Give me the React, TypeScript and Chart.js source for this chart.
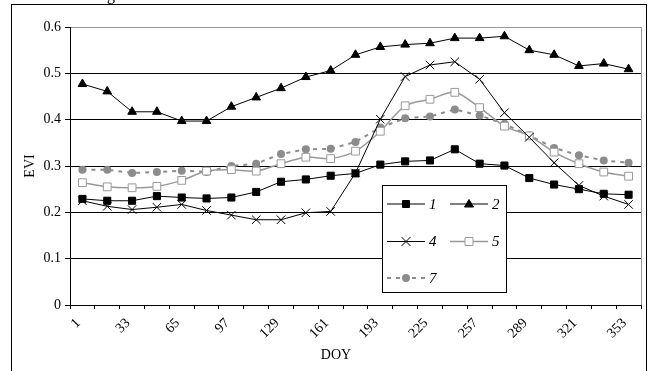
import React, { useEffect, useRef } from "react";
import { Chart, registerables } from "chart.js";

Chart.register(...registerables);

const doyLabels = ["1", "17", "33", "49", "65", "81", "97", "113", "129", "145", "161", "177", "193", "209", "225", "241", "257", "273", "289", "305", "321", "337", "353"];

const series1 = [0.229, 0.225, 0.225, 0.235, 0.232, 0.23, 0.232, 0.244, 0.266, 0.271, 0.279, 0.284, 0.303, 0.31, 0.312, 0.336, 0.305, 0.301, 0.274, 0.26, 0.25, 0.24, 0.238];
const series2 = [0.477, 0.461, 0.417, 0.417, 0.397, 0.397, 0.428, 0.448, 0.468, 0.492, 0.506, 0.54, 0.557, 0.562, 0.565, 0.576, 0.576, 0.58, 0.55, 0.54, 0.516, 0.521, 0.509];
const series4 = [0.225, 0.213, 0.206, 0.211, 0.217, 0.204, 0.194, 0.184, 0.184, 0.199, 0.202, 0.285, 0.401, 0.493, 0.518, 0.525, 0.487, 0.415, 0.362, 0.307, 0.258, 0.235, 0.217];
const series5 = [0.264, 0.255, 0.253, 0.256, 0.269, 0.289, 0.292, 0.289, 0.305, 0.319, 0.316, 0.332, 0.375, 0.43, 0.444, 0.459, 0.426, 0.386, 0.365, 0.33, 0.305, 0.287, 0.278];
const series7 = [0.292, 0.292, 0.285, 0.287, 0.29, 0.287, 0.3, 0.305, 0.326, 0.336, 0.337, 0.352, 0.383, 0.403, 0.407, 0.422, 0.409, 0.391, 0.366, 0.339, 0.323, 0.312, 0.307];

const seriesNames = ["1", "2", "4", "5", "7"];
const yTicks = [0, 0.1, 0.2, 0.3, 0.4, 0.5, 0.6];

const FONT = "'Liberation Serif', 'Times New Roman', serif";
const GRAY_LINE = "#999999";
const GRAY_DOT = "#8c8c8c";

function drawMarker(ctx: CanvasRenderingContext2D, style: string, x: number, y: number, fill: string, stroke: string) {
  ctx.save();
  ctx.fillStyle = fill;
  ctx.strokeStyle = stroke;
  ctx.lineWidth = 1;
  ctx.setLineDash([]);
  ctx.beginPath();
  if (style === "rect") {
    ctx.rect(x - 3.5, y - 3.5, 7, 7);
    ctx.fill();
    ctx.stroke();
  } else if (style === "openrect") {
    ctx.rect(x - 4, y - 4, 8, 8);
    ctx.fill();
    ctx.stroke();
  } else if (style === "triangle") {
    ctx.moveTo(x, y - 4.5);
    ctx.lineTo(x + 4.5, y + 3);
    ctx.lineTo(x - 4.5, y + 3);
    ctx.closePath();
    ctx.fill();
    ctx.stroke();
  } else if (style === "cross") {
    ctx.moveTo(x - 4.5, y - 4.5);
    ctx.lineTo(x + 4.5, y + 4.5);
    ctx.moveTo(x + 4.5, y - 4.5);
    ctx.lineTo(x - 4.5, y + 4.5);
    ctx.stroke();
  } else if (style === "circle") {
    ctx.arc(x, y, 4, 0, Math.PI * 2);
    ctx.fill();
  }
  ctx.restore();
}

const decorPlugin = {
  id: "decor",
  beforeDraw(chart: any) {
    const ctx = chart.ctx as CanvasRenderingContext2D;
    ctx.save();
    ctx.fillStyle = "#fff";
    ctx.fillRect(0, 0, chart.width, chart.height);
    ctx.restore();
  },
  afterDraw(chart: any) {
    const ctx = chart.ctx as CanvasRenderingContext2D;
    const ca = chart.chartArea;
    ctx.save();
    ctx.strokeStyle = "#000";
    ctx.lineWidth = 1;
    ctx.strokeRect(11.5, 4.5, 635, 400);
    ctx.strokeStyle = GRAY_LINE;
    ctx.beginPath();
    ctx.moveTo(Math.round(ca.right) + 0.5, Math.round(ca.top));
    ctx.lineTo(Math.round(ca.right) + 0.5, Math.round(ca.bottom));
    ctx.stroke();
    ctx.fillStyle = "#000";
    ctx.font = `16px ${FONT}`;
    ctx.textBaseline = "alphabetic";
    ctx.textAlign = "left";
    ctx.fillText("g", 107, 0);
    ctx.font = `14px ${FONT}`;
    ctx.textAlign = "center";
    ctx.textBaseline = "middle";
    ctx.fillText("DOY", 336, 355);
    ctx.translate(30, 166);
    ctx.rotate(-Math.PI / 2);
    ctx.fillText("EVI", 0, 0);
    ctx.restore();

    const bx = 382.5, by = 185.5, bw = 124, bh = 107;
    ctx.save();
    ctx.fillStyle = "#fff";
    ctx.fillRect(bx, by, bw, bh);
    ctx.strokeStyle = "#000";
    ctx.lineWidth = 1;
    ctx.strokeRect(bx, by, bw, bh);
    const entries = [
      { col: 0, row: 0, marker: "rect", color: "#000", fill: "#000", width: 1, dash: [] as number[] },
      { col: 1, row: 0, marker: "triangle", color: "#000", fill: "#000", width: 1, dash: [] as number[] },
      { col: 0, row: 1, marker: "cross", color: "#000", fill: "#000", width: 1, dash: [] as number[] },
      { col: 1, row: 1, marker: "openrect", color: GRAY_LINE, fill: "#fff", width: 1.5, dash: [] as number[] },
      { col: 0, row: 2, marker: "circle", color: GRAY_DOT, fill: GRAY_DOT, width: 2, dash: [4, 5] },
    ];
    const colX = [387, 450];
    const rowY = [204, 241.5, 278];
    entries.forEach((e, i) => {
      const x0 = colX[e.col];
      const y = rowY[e.row];
      ctx.save();
      ctx.strokeStyle = e.color;
      ctx.lineWidth = e.width;
      ctx.beginPath();
      if (e.dash.length) {
        ctx.moveTo(x0, y);
        ctx.lineTo(x0 + 4, y);
        ctx.moveTo(x0 + 9, y);
        ctx.lineTo(x0 + 13, y);
        ctx.moveTo(x0 + 25, y);
        ctx.lineTo(x0 + 29, y);
        ctx.moveTo(x0 + 34, y);
        ctx.lineTo(x0 + 38, y);
      } else {
        ctx.moveTo(x0, y);
        ctx.lineTo(x0 + 38, y);
      }
      ctx.stroke();
      ctx.restore();
      drawMarker(ctx, e.marker, x0 + 19, y, e.fill, e.color);
      ctx.fillStyle = "#000";
      ctx.font = `italic 15px ${FONT}`;
      ctx.textAlign = "left";
      ctx.textBaseline = "middle";
      ctx.fillText(seriesNames[i], x0 + 42, y + 1);
    });
    ctx.restore();
  },
};

export default function App() {
  const ref = useRef<HTMLCanvasElement | null>(null);
  useEffect(() => {
    document.body.style.margin = "0";
    const canvas = ref.current;
    if (!canvas) return;
    const chart = new Chart(canvas, {
      type: "line",
      data: {
        labels: doyLabels,
        datasets: [
          {
            label: seriesNames[0],
            data: series1,
            borderColor: "#000",
            borderWidth: 1,
            pointStyle: "rect",
            pointRadius: 5,
            pointBackgroundColor: "#000",
            pointBorderColor: "#000",
            pointBorderWidth: 1,
            tension: 0,
          },
          {
            label: seriesNames[1],
            data: series2,
            borderColor: "#000",
            borderWidth: 1,
            pointStyle: "triangle",
            pointRadius: 5,
            pointBackgroundColor: "#000",
            pointBorderColor: "#000",
            pointBorderWidth: 1,
            tension: 0,
          },
          {
            label: seriesNames[2],
            data: series4,
            borderColor: "#000",
            borderWidth: 1,
            pointStyle: "crossRot",
            pointRadius: 6,
            pointBackgroundColor: "#000",
            pointBorderColor: "#000",
            pointBorderWidth: 1,
            tension: 0,
          },
          {
            label: seriesNames[3],
            data: series5,
            borderColor: GRAY_LINE,
            borderWidth: 1.5,
            pointStyle: "rect",
            pointRadius: 5.5,
            pointBackgroundColor: "#fff",
            pointBorderColor: GRAY_LINE,
            pointBorderWidth: 1,
            tension: 0.3,
          },
          {
            label: seriesNames[4],
            data: series7,
            borderColor: GRAY_DOT,
            borderWidth: 2,
            borderDash: [4, 5],
            pointStyle: "circle",
            pointRadius: 4,
            pointBackgroundColor: GRAY_DOT,
            pointBorderColor: GRAY_DOT,
            pointBorderWidth: 0,
            tension: 0,
          },
        ],
      },
      options: {
        responsive: false,
        animation: false,
        devicePixelRatio: 1,
        layout: { padding: { left: 0, top: 27, right: 9, bottom: 0 } },
        plugins: {
          legend: { display: false },
          tooltip: { enabled: false },
          title: { display: false },
        },
        scales: {
          x: {
            type: "category",
            offset: true,
            afterFit: (s: any) => {
              s.height = 66;
            },
            grid: {
              offset: true,
              drawOnChartArea: false,
              drawTicks: true,
              tickLength: 4,
              tickColor: "#000",
              color: "#000",
            },
            border: { display: true, color: "#000", width: 1 },
            ticks: {
              autoSkip: false,
              minRotation: 45,
              maxRotation: 45,
              color: "#000",
              font: { family: FONT, size: 14 },
              padding: 6,
              labelOffset: -4,
              callback: (_v: any, i: number) => (i % 2 === 0 ? doyLabels[i] : ""),
            },
          },
          y: {
            min: 0,
            max: 0.6,
            afterFit: (s: any) => {
              s.width = 70;
            },
            afterBuildTicks: (s: any) => {
              s.ticks = yTicks.map((v) => ({ value: v }));
            },
            grid: {
              color: (c: any) => (c.tick && Math.abs(c.tick.value - 0.6) < 1e-6 ? GRAY_LINE : "#000"),
              tickColor: "#000",
              tickLength: 5,
              drawTicks: true,
            },
            border: { display: true, color: "#000", width: 1 },
            ticks: {
              color: "#000",
              font: { family: FONT, size: 14 },
              padding: 4,
              callback: (v: any) => (v === 0 ? "0" : Number(v).toFixed(1)),
            },
          },
        },
      },
      plugins: [decorPlugin],
    });
    return () => chart.destroy();
  }, []);
  return (
    <div style={{ position: "absolute", left: 0, top: 0, width: 650, height: 371 }}>
      <canvas ref={ref} width={650} height={371} style={{ display: "block", width: 650, height: 371 }} />
    </div>
  );
}
